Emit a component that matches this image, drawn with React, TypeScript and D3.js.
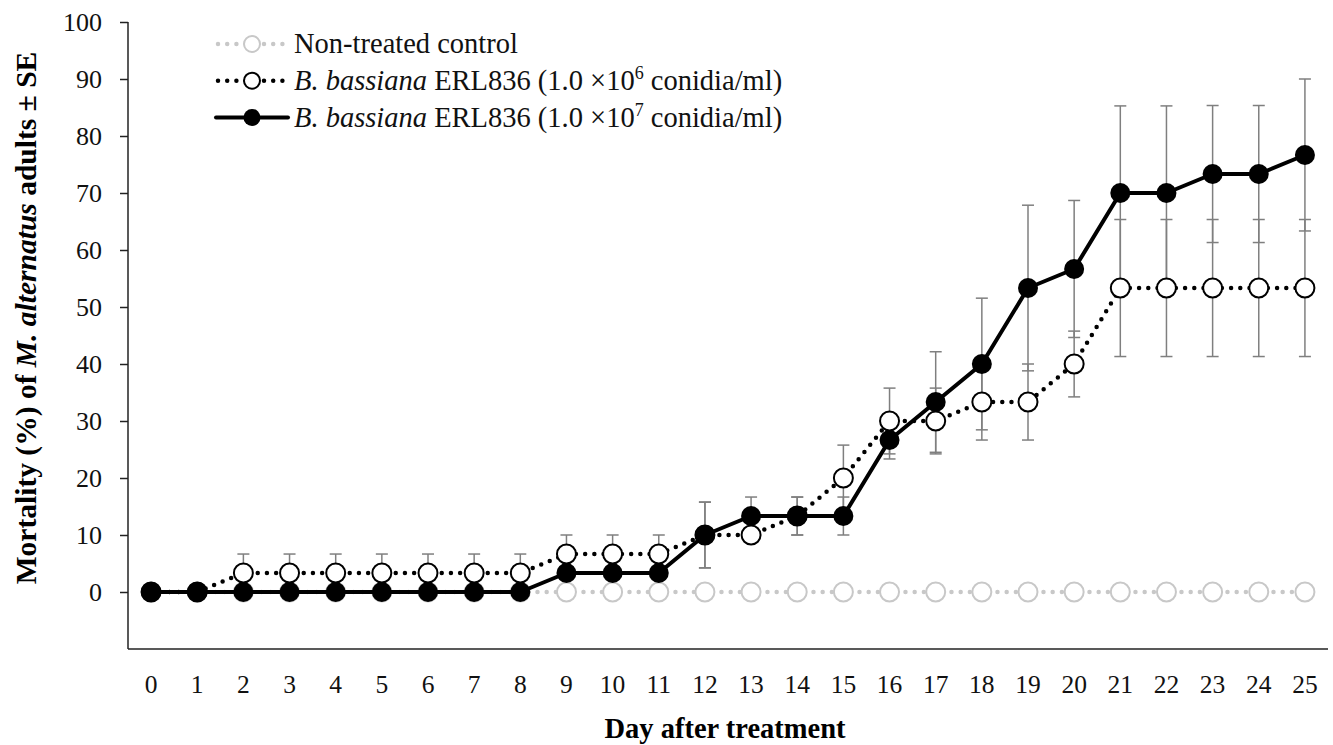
import React, { useEffect, useRef } from "react";
import * as d3 from "d3";

// Days after treatment (category axis)
const days = [0, 1, 2, 3, 4, 5, 6, 7, 8, 9, 10, 11, 12, 13, 14, 15, 16, 17, 18, 19, 20, 21, 22, 23, 24, 25];

// Mean mortality (%) per treatment
const control = [0, 0, 0, 0, 0, 0, 0, 0, 0, 0, 0, 0, 0, 0, 0, 0, 0, 0, 0, 0, 0, 0, 0, 0, 0, 0];
const low = [0, 0, 3.33, 3.33, 3.33, 3.33, 3.33, 3.33, 3.33, 6.67, 6.67, 6.67, 10, 10, 13.33, 20, 30, 30, 33.33, 33.33, 40, 53.33, 53.33, 53.33, 53.33, 53.33];
const high = [0, 0, 0, 0, 0, 0, 0, 0, 0, 3.33, 3.33, 3.33, 10, 13.33, 13.33, 13.33, 26.67, 33.33, 40, 53.33, 56.67, 70, 70, 73.33, 73.33, 76.67];

// Standard errors
const lowSE = [0, 0, 3.33, 3.33, 3.33, 3.33, 3.33, 3.33, 3.33, 3.33, 3.33, 3.33, 5.77, 0, 3.33, 5.77, 5.77, 5.77, 6.67, 6.67, 5.77, 12.02, 12.02, 12.02, 12.02, 12.02];
const highSE = [0, 0, 0, 0, 0, 0, 0, 0, 0, 3.33, 3.33, 3.33, 5.77, 3.33, 3.33, 3.33, 3.33, 8.82, 11.55, 14.53, 12.02, 15.28, 15.28, 12.02, 12.02, 13.33];

const yTicks = [0, 10, 20, 30, 40, 50, 60, 70, 80, 90, 100];

const FONT = "'Liberation Serif', 'Times New Roman', serif";
const GREY = "#c8c8c8";
const ERR = "#7f7f7f";

export default function App() {
  const ref = useRef<SVGSVGElement | null>(null);

  useEffect(() => {
    const svg = d3.select(ref.current);
    svg.selectAll("*").remove();

    const x = d3.scaleLinear().domain([-0.5, 25.5]).range([128, 1328]);
    const y = d3.scaleLinear().domain([-10, 100]).range([649, 22]);

    // Y axis
    const yAxis = d3.axisLeft(y).tickValues(yTicks).tickSize(8).tickPadding(18).tickFormat(d3.format("d"));
    const gy = svg.append("g").attr("transform", `translate(${x(-0.5)},0)`).call(yAxis);
    gy.select(".domain").remove();
    gy.selectAll("line").attr("stroke", "#222").attr("stroke-width", 1.5);
    gy.selectAll("text").attr("font-family", FONT).attr("font-size", 26).attr("fill", "#111");
    svg.append("line")
      .attr("x1", x(-0.5)).attr("x2", x(-0.5))
      .attr("y1", y(100)).attr("y2", y(-10))
      .attr("stroke", "#222").attr("stroke-width", 1.5);

    // X axis (category labels, no tick marks)
    svg.append("line")
      .attr("x1", x(-0.5)).attr("x2", x(25.5))
      .attr("y1", y(-10)).attr("y2", y(-10))
      .attr("stroke", "#222").attr("stroke-width", 1.5);
    svg.append("g").selectAll("text").data(days).join("text")
      .attr("x", (d) => x(d)).attr("y", 693)
      .attr("text-anchor", "middle")
      .attr("font-family", FONT).attr("font-size", 25.5).attr("fill", "#111")
      .text((d) => String(d));

    // Axis titles
    svg.append("text")
      .attr("x", 725).attr("y", 738)
      .attr("text-anchor", "middle")
      .attr("font-family", FONT).attr("font-size", 28.5).attr("font-weight", "bold")
      .text("Day after treatment");
    const yt = svg.append("text")
      .attr("transform", "translate(36,318) rotate(-90)")
      .attr("text-anchor", "middle")
      .attr("font-family", FONT).attr("font-size", 29.5).attr("font-weight", "bold");
    yt.append("tspan").text("Mortality (%) of ");
    yt.append("tspan").attr("font-style", "italic").text("M. alternatus");
    yt.append("tspan").text(" adults ± SE");

    // Error bars
    const errG = svg.append("g").attr("stroke", ERR).attr("stroke-width", 1.5).attr("fill", "none");
    const drawErr = (vals: number[], se: number[]) => {
      days.forEach((d, i) => {
        if (!se[i]) return;
        const lo = y(vals[i] - se[i]);
        const hi = y(vals[i] + se[i]);
        errG.append("line").attr("x1", x(d)).attr("x2", x(d)).attr("y1", lo).attr("y2", hi);
        errG.append("line").attr("x1", x(d) - 6).attr("x2", x(d) + 6).attr("y1", lo).attr("y2", lo);
        errG.append("line").attr("x1", x(d) - 6).attr("x2", x(d) + 6).attr("y1", hi).attr("y2", hi);
      });
    };
    drawErr(low, lowSE);
    drawErr(high, highSE);

    const line = d3.line<number>().x((_, i) => x(days[i])).y((v) => y(v));

    // Non-treated control
    svg.append("path").datum(control).attr("d", line)
      .attr("fill", "none").attr("stroke", GREY).attr("stroke-width", 4.5)
      .attr("stroke-dasharray", "0 9.2").attr("stroke-linecap", "round");
    svg.append("g").selectAll("circle").data(control).join("circle")
      .attr("cx", (_, i) => x(days[i])).attr("cy", (v) => y(v)).attr("r", 9.5)
      .attr("fill", "#fff").attr("stroke", GREY).attr("stroke-width", 2);

    // 1.0 x 10^6 conidia/ml
    svg.append("path").datum(low).attr("d", line)
      .attr("fill", "none").attr("stroke", "#000").attr("stroke-width", 4.5)
      .attr("stroke-dasharray", "0 9.2").attr("stroke-linecap", "round");
    svg.append("g").selectAll("circle").data(low).join("circle")
      .attr("cx", (_, i) => x(days[i])).attr("cy", (v) => y(v)).attr("r", 9.5)
      .attr("fill", "#fff").attr("stroke", "#000").attr("stroke-width", 2);

    // 1.0 x 10^7 conidia/ml
    svg.append("path").datum(high).attr("d", line)
      .attr("fill", "none").attr("stroke", "#000").attr("stroke-width", 4)
      .attr("stroke-linejoin", "round");
    svg.append("g").selectAll("circle").data(high).join("circle")
      .attr("cx", (_, i) => x(days[i])).attr("cy", (v) => y(v)).attr("r", 10)
      .attr("fill", "#000");

    // Legend
    const leg = svg.append("g");
    const rows = [
      { cy: 44, kind: "control", exp: "" },
      { cy: 80.7, kind: "low", exp: "6" },
      { cy: 117.4, kind: "high", exp: "7" },
    ];
    rows.forEach((r) => {
      const g = leg.append("g");
      if (r.kind === "control" || r.kind === "low") {
        const col = r.kind === "control" ? GREY : "#000";
        g.append("line").attr("x1", 218).attr("x2", 288).attr("y1", r.cy).attr("y2", r.cy)
          .attr("stroke", col).attr("stroke-width", 4.5)
          .attr("stroke-dasharray", "0 9.2").attr("stroke-linecap", "round");
        g.append("circle").attr("cx", 252).attr("cy", r.cy).attr("r", 8)
          .attr("fill", "#fff").attr("stroke", col).attr("stroke-width", 2);
      } else {
        g.append("line").attr("x1", 216).attr("x2", 288).attr("y1", r.cy).attr("y2", r.cy)
          .attr("stroke", "#000").attr("stroke-width", 4).attr("stroke-linecap", "round");
        g.append("circle").attr("cx", 252).attr("cy", r.cy).attr("r", 8.5).attr("fill", "#000");
      }
      const t = g.append("text").attr("x", 294).attr("y", r.cy + 9.3)
        .attr("font-family", FONT).attr("font-size", 28.5).attr("fill", "#111");
      if (r.kind === "control") {
        t.text("Non-treated control");
      } else {
        t.append("tspan").attr("font-style", "italic").text("B. bassiana");
        t.append("tspan").text(" ERL836 (1.0 ×10");
        t.append("tspan").attr("font-size", 18).attr("dy", -11).text(r.exp);
        t.append("tspan").attr("dy", 11).text(" conidia/ml)");
      }
    });
  }, []);

  return (
    <svg
      ref={ref}
      width={1333}
      height={745}
      style={{ position: "absolute", left: 0, top: 0, background: "#fff", display: "block" }}
    />
  );
}
